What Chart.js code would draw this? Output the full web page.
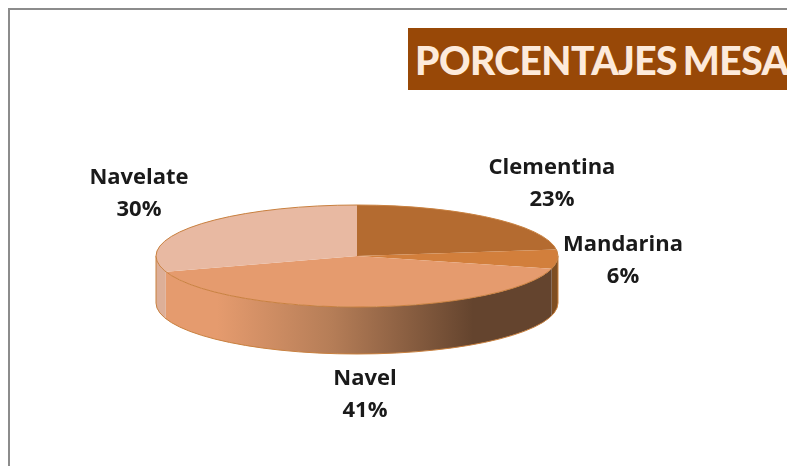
<!DOCTYPE html>
<html>
<head>
<meta charset="utf-8">
<style>
  html, body { margin: 0; padding: 0; background: #fff; overflow: hidden; }
  #wrap { position: relative; width: 787px; height: 466px; }
  #frame { position: absolute; left: 8px; top: 8px; right: 0; bottom: 0; border-left: 2px solid #8c8c8c; border-top: 2px solid #8c8c8c; }
  #titleBox { position: absolute; left: 408px; top: 28px; width: 379px; height: 62px; background: #984807; overflow: hidden; }
  #titleBox span { position: absolute; left: 7px; top: 9px; font: 900 39px Lato, sans-serif; color: #fdeada; white-space: nowrap; letter-spacing: -0.55px; word-spacing: -3px; }
  canvas { position: absolute; left: 0; top: 0; }
</style>
</head>
<body>
<div id="wrap">
  <div id="frame"></div>
  <div id="titleBox"><span>PORCENTAJES MESA</span></div>
  <canvas id="pieChart" width="787" height="466"></canvas>
</div>
<script src="https://cdn.jsdelivr.net/npm/chart.js@4"></script>
<script>
const categories = ['Clementina', 'Mandarina', 'Navel', 'Navelate'];
const percents = [23, 6, 41, 30];
const topColors = ['#B46B30', '#D27F3C', '#E59B6E', '#E8B9A2'];
const sideColors = ['#8A5224', '#7E4E22', null, '#DDAF98'];

// the pie is drawn round by Chart.js and squashed to an ellipse here
const squash = 51 / 201;
const depth = 47;
const rimColor = '#C8803F';
const labelSpots = [[552, 168], [623, 245], [365, 379], [139, 178]];

const pie3d = {
    id: 'pie3d',
    beforeDatasetsDraw(chart) {
        const ctx = chart.ctx;
        const arcs = chart.getDatasetMeta(0).data;
        const { x, y, outerRadius: r } = arcs[0];
        const ry = r * squash;

        arcs.forEach((arc, i) => {
            const a = Math.max(arc.startAngle, 0);
            const b = Math.min(arc.endAngle, Math.PI);
            if (b <= a) return;
            ctx.beginPath();
            ctx.ellipse(x, y + depth, r, ry, 0, a, b);
            ctx.ellipse(x, y, r, ry, 0, b, a, true);
            ctx.closePath();
            if (sideColors[i]) {
                ctx.fillStyle = sideColors[i];
            } else {
                const g = ctx.createLinearGradient(217, 0, 473, 0);
                g.addColorStop(0, '#E59B6E');
                g.addColorStop(0.45, '#B57D57');
                g.addColorStop(1, '#64442E');
                ctx.fillStyle = g;
            }
            ctx.fill();
        });

        ctx.strokeStyle = rimColor;
        ctx.lineWidth = 1;
        ctx.beginPath();
        ctx.moveTo(x - r, y);
        ctx.lineTo(x - r, y + depth);
        ctx.ellipse(x, y + depth, r, ry, 0, Math.PI, 0, true);
        ctx.lineTo(x + r, y);
        ctx.stroke();
    },
    beforeDatasetDraw(chart) {
        const ctx = chart.ctx;
        const { x, y } = chart.getDatasetMeta(0).data[0];
        ctx.save();
        ctx.translate(x, y);
        ctx.scale(1, squash);
        ctx.translate(-x, -y);
    },
    afterDatasetDraw(chart) {
        const ctx = chart.ctx;
        ctx.restore();
        const { x, y, outerRadius: r } = chart.getDatasetMeta(0).data[0];
        ctx.strokeStyle = rimColor;
        ctx.lineWidth = 1;
        ctx.beginPath();
        ctx.ellipse(x, y, r, r * squash, 0, 0, Math.PI * 2);
        ctx.stroke();
    },
    afterDraw(chart) {
        const ctx = chart.ctx;
        ctx.save();
        ctx.font = 'bold 22px "Open Sans", sans-serif';
        ctx.fillStyle = '#1a1a1a';
        ctx.textAlign = 'center';
        ctx.textBaseline = 'middle';
        categories.forEach((name, i) => {
            const [lx, ly] = labelSpots[i];
            ctx.fillText(name, lx, ly);
            ctx.fillText(percents[i] + '%', lx, ly + 32);
        });
        ctx.restore();
    }
};

new Chart(document.getElementById('pieChart').getContext('2d'), {
    type: 'pie',
    data: {
        labels: categories,
        datasets: [{
            data: percents,
            backgroundColor: topColors,
            borderWidth: 0,
            radius: 201
        }]
    },
    options: {
        responsive: false,
        animation: false,
        layout: { padding: { right: 73, top: 46 } },
        plugins: {
            legend: { display: false },
            tooltip: { enabled: false }
        }
    },
    plugins: [pie3d]
});
</script>
</body>
</html>
